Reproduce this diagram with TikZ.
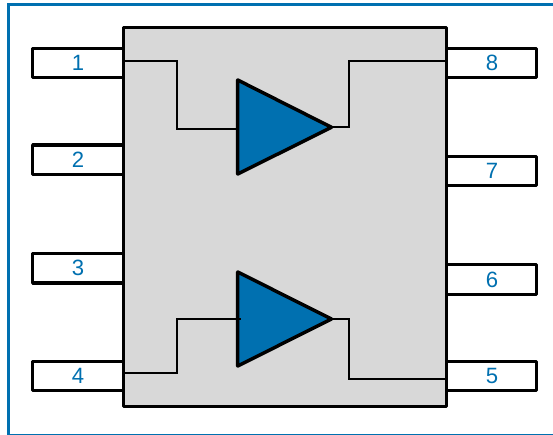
\documentclass[tikz,border=0pt]{standalone}
\usepackage{fontspec}
\setmainfont{Liberation Sans}
\definecolor{tiblue}{RGB}{0,112,176}
\definecolor{pkggray}{RGB}{216,216,216}
\tikzset{
  x=0.75pt,y=-0.75pt,
  frameline/.style={draw=tiblue,line width=2pt},
  pkg/.style={draw=black,fill=pkggray,line width=2.4pt,line join=round},
  pinbox/.style={draw=black,fill=white,line width=2.4pt,line join=round,minimum width=68pt,minimum height=22pt,inner sep=0pt,outer sep=0pt,anchor=center},
  pinnum/.style={text=tiblue,font=\fontsize{16.6pt}{18pt}\selectfont,inner sep=0pt},
  wire/.style={draw=black,line width=1.5pt,line join=miter},
  amp/.style={draw=black,fill=tiblue,line width=2.6pt,line join=round}
}
\begin{document}
\begin{tikzpicture}
\useasboundingbox (0,0) rectangle (553,435);
\draw[frameline] (8.5,435) -- (8.5,4.5) -- (553,4.5);
\draw[tiblue,line width=0.9pt] (8.5,434.6) -- (553,434.6);
% pins
\node[pinbox] (p1) at (78,62.8) {};
\node[pinbox] (p2) at (78,159.7) {};
\node[pinbox] (p3) at (78,268.3) {};
\node[pinbox] (p4) at (78,376.2) {};
\node[pinbox] (p8) at (491,62.8) {};
\node[pinbox] (p7) at (491,170.8) {};
\node[pinbox] (p6) at (491,279.5) {};
\node[pinbox] (p5) at (491,376.2) {};
% package
\node[pkg,minimum width=242.5pt,minimum height=284.2pt,inner sep=0pt,outer sep=0pt,anchor=north west] (body) at (123.3,27.7) {};
\node[pinnum] at (p1) {1};
\node[pinnum] at (p2) {2};
\node[pinnum] at (p3) {3};
\node[pinnum] at (p4) {4};
\node[pinnum,xshift=0.75pt] at (p8) {8};
\node[pinnum,xshift=0.75pt] at (p7) {7};
\node[pinnum,xshift=0.75pt] at (p6) {6};
\node[pinnum,xshift=0.75pt] at (p5) {5};
% amplifiers
\coordinate (a1in) at (237.7,129);
\coordinate (a1out) at (331.5,127.3);
\coordinate (a2in) at (241,319);
\coordinate (a2out) at (331.5,319);
\draw[amp] (237.7,80) -- (331.5,127.3) -- (237.7,174) -- cycle;
\draw[amp] (237.7,272) -- (331.5,319) -- (237.7,366) -- cycle;
% wires
\coordinate (w1s) at (body.west |- 0,60.7);
\draw[wire] (w1s) -| (176.7,129) -- (a1in);
\coordinate (w4s) at (body.west |- 0,373.3);
\draw[wire] (w4s) -| (176.7,319) -- (a2in);
\coordinate (w8e) at (body.east |- 0,60.7);
\draw[wire] (a1out) -- (349,127.3) |- (w8e);
\coordinate (w5e) at (body.east |- 0,378.7);
\draw[wire] (a2out) -- (349,319) |- (w5e);
\end{tikzpicture}
\end{document}
